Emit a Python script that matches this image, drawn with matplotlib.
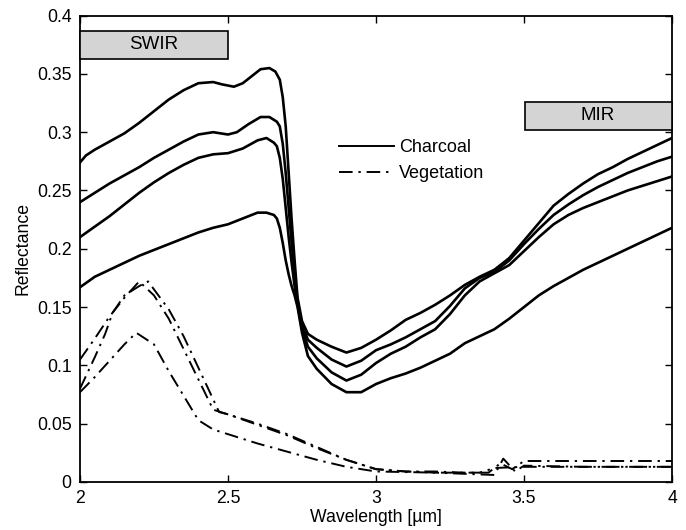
import matplotlib
matplotlib.use("Agg")
import matplotlib.pyplot as plt
from matplotlib.patches import Rectangle
from matplotlib.ticker import FuncFormatter

plt.rcParams['font.family'] = ['Liberation Sans', 'DejaVu Sans']
plt.rcParams['font.size'] = 13

# charcoal spectra (wavelength in um, reflectance)
char_x1 = [2.0, 2.02, 2.05, 2.1, 2.15, 2.2, 2.25, 2.3, 2.35, 2.4, 2.45, 2.48, 2.52, 2.55, 2.58, 2.61, 2.64,
           2.66, 2.675, 2.685, 2.695, 2.705, 2.715, 2.725, 2.735, 2.75, 2.77, 2.8, 2.85, 2.9, 2.95, 3.0,
           3.05, 3.1, 3.15, 3.2, 3.25, 3.3, 3.35, 3.4, 3.45, 3.5, 3.55, 3.6, 3.65, 3.7, 3.75, 3.8, 3.85,
           3.9, 3.95, 4.0]
char_y1 = [0.274, 0.28, 0.285, 0.292, 0.299, 0.308, 0.318, 0.328, 0.336, 0.342, 0.343, 0.341, 0.339, 0.342,
           0.348, 0.354, 0.355, 0.352, 0.345, 0.33, 0.305, 0.265, 0.225, 0.19, 0.158, 0.138, 0.127, 0.122,
           0.116, 0.111, 0.115, 0.122, 0.13, 0.139, 0.145, 0.152, 0.16, 0.169, 0.176, 0.182, 0.192, 0.207,
           0.222, 0.237, 0.247, 0.256, 0.264, 0.27, 0.277, 0.283, 0.289, 0.295]

char_x2 = [2.0, 2.05, 2.1, 2.15, 2.2, 2.25, 2.3, 2.35, 2.4, 2.45, 2.5, 2.53, 2.57, 2.61, 2.64, 2.665,
           2.675, 2.685, 2.695, 2.705, 2.715, 2.725, 2.735, 2.75, 2.77, 2.8, 2.85, 2.9, 2.95, 3.0, 3.05,
           3.1, 3.15, 3.2, 3.25, 3.3, 3.35, 3.4, 3.45, 3.5, 3.55, 3.6, 3.65, 3.7, 3.75, 3.8, 3.85, 3.9,
           3.95, 4.0]
char_y2 = [0.24, 0.248, 0.256, 0.263, 0.27, 0.278, 0.285, 0.292, 0.298, 0.3, 0.298, 0.3, 0.307, 0.313,
           0.313, 0.309, 0.305, 0.29, 0.265, 0.235, 0.205, 0.178, 0.155, 0.135, 0.122, 0.115, 0.105, 0.099,
           0.104, 0.113, 0.118, 0.124, 0.131, 0.138, 0.151, 0.166, 0.175, 0.18, 0.19, 0.204, 0.217, 0.229,
           0.238, 0.246, 0.253, 0.259, 0.265, 0.27, 0.275, 0.279]

char_x3 = [2.0, 2.05, 2.1, 2.15, 2.2, 2.25, 2.3, 2.35, 2.4, 2.45, 2.5, 2.55, 2.6, 2.63, 2.655, 2.665,
           2.675, 2.685, 2.695, 2.705, 2.715, 2.725, 2.735, 2.75, 2.77, 2.8, 2.85, 2.9, 2.95, 3.0, 3.05,
           3.1, 3.15, 3.2, 3.25, 3.3, 3.35, 3.4, 3.45, 3.5, 3.55, 3.6, 3.65, 3.7, 3.75, 3.8, 3.85, 3.9,
           3.95, 4.0]
char_y3 = [0.21, 0.219, 0.228, 0.238, 0.248, 0.257, 0.265, 0.272, 0.278, 0.281, 0.282, 0.286, 0.293,
           0.295, 0.291, 0.288, 0.278, 0.26, 0.235, 0.21, 0.188, 0.168, 0.152, 0.132, 0.116, 0.106, 0.094,
           0.087, 0.092, 0.102, 0.11, 0.116, 0.124, 0.131, 0.144, 0.16, 0.172, 0.179, 0.186, 0.198, 0.21,
           0.221, 0.229, 0.235, 0.24, 0.245, 0.25, 0.254, 0.258, 0.262]

char_x4 = [2.0, 2.05, 2.1, 2.15, 2.2, 2.25, 2.3, 2.35, 2.4, 2.45, 2.5, 2.55, 2.6, 2.63, 2.655, 2.665,
           2.675, 2.685, 2.695, 2.705, 2.715, 2.725, 2.735, 2.75, 2.77, 2.8, 2.85, 2.9, 2.95, 3.0, 3.05,
           3.1, 3.15, 3.2, 3.25, 3.3, 3.35, 3.4, 3.45, 3.5, 3.55, 3.6, 3.65, 3.7, 3.75, 3.8, 3.85, 3.9,
           3.95, 4.0]
char_y4 = [0.167, 0.176, 0.182, 0.188, 0.194, 0.199, 0.204, 0.209, 0.214, 0.218, 0.221, 0.226, 0.231,
           0.231, 0.229, 0.226, 0.218, 0.205, 0.19, 0.178, 0.168, 0.16, 0.15, 0.128, 0.108, 0.097, 0.084,
           0.077, 0.077, 0.084, 0.089, 0.093, 0.098, 0.104, 0.11, 0.119, 0.125, 0.131, 0.14, 0.15, 0.16,
           0.168, 0.175, 0.182, 0.188, 0.194, 0.2, 0.206, 0.212, 0.218]

# vegetation spectra
veg_x1 = [2.0, 2.05, 2.1, 2.15, 2.2, 2.25, 2.3, 2.35, 2.4, 2.45, 2.5, 2.6, 2.7, 2.8, 2.9, 3.0, 3.1,
          3.2, 3.3, 3.38, 3.42, 3.46, 3.5, 3.6, 3.8, 4.0]
veg_y1 = [0.105, 0.123, 0.142, 0.158, 0.172, 0.16, 0.14, 0.114, 0.088, 0.062, 0.058, 0.05, 0.041, 0.03,
          0.019, 0.011, 0.009, 0.009, 0.008, 0.008, 0.016, 0.011, 0.018, 0.018, 0.018, 0.018]

veg_x2 = [2.0, 2.05, 2.085, 2.11, 2.15, 2.2, 2.23, 2.3, 2.35, 2.4, 2.47, 2.5, 2.6, 2.7, 2.8, 2.9, 3.0,
          3.1, 3.2, 3.3, 3.4, 3.43, 3.47, 3.5, 3.7, 4.0]
veg_y2 = [0.08, 0.107, 0.127, 0.145, 0.16, 0.168, 0.172, 0.148, 0.125, 0.098, 0.06, 0.058, 0.049, 0.04,
          0.029, 0.019, 0.011, 0.009, 0.008, 0.007, 0.006, 0.02, 0.009, 0.014, 0.013, 0.013]

veg_x3 = [2.0, 2.05, 2.1, 2.15, 2.19, 2.25, 2.3, 2.35, 2.4, 2.45, 2.5, 2.6, 2.7, 2.8, 2.9, 3.0, 3.2,
          3.35, 3.4, 3.5, 4.0]
veg_y3 = [0.077, 0.09, 0.104, 0.118, 0.128, 0.118, 0.095, 0.074, 0.053, 0.045, 0.041, 0.033, 0.026,
          0.019, 0.013, 0.009, 0.008, 0.008, 0.012, 0.013, 0.013]

y_ticks = [0, 0.05, 0.1, 0.15, 0.2, 0.25, 0.3, 0.35, 0.4]
x_ticks = [2, 2.5, 3, 3.5, 4]

fig = plt.figure(figsize=(6.86, 5.30), dpi=100)
ax = fig.add_axes([0.1166, 0.0906, 0.863, 0.880])

dashdot = (0, (7, 3, 1.2, 3))
for x, y in [(char_x1, char_y1), (char_x2, char_y2), (char_x3, char_y3), (char_x4, char_y4)]:
    ax.plot(x, y, color='black', lw=1.9)
for x, y in [(veg_x1, veg_y1), (veg_x2, veg_y2), (veg_x3, veg_y3)]:
    ax.plot(x, y, color='black', lw=1.4, linestyle=dashdot)

# band labels
ax.add_patch(Rectangle((2.0, 0.363), 0.5, 0.024, facecolor='#d4d4d4', edgecolor='black', lw=1.2,
                       zorder=3, clip_on=False))
ax.text(2.25, 0.375, 'SWIR', ha='center', va='center', fontsize=13.5, zorder=4)
ax.add_patch(Rectangle((3.503, 0.302), 0.497, 0.024, facecolor='#d4d4d4', edgecolor='black', lw=1.2,
                       zorder=3, clip_on=False))
ax.text(3.75, 0.314, 'MIR', ha='center', va='center', fontsize=13.5, zorder=4)

# legend
ax.plot([], [], color='black', lw=1.4, label='Charcoal')
ax.plot([], [], color='black', lw=1.4, linestyle=dashdot, label='Vegetation')
h, l = ax.get_legend_handles_labels()
ax.legend(h[-2:], l[-2:], loc='upper left', bbox_to_anchor=(0.41, 0.77), frameon=False,
          handlelength=3.05, handletextpad=0.28, labelspacing=0.5, fontsize=13)

ax.set_xlim(2, 4)
ax.set_ylim(0, 0.4)
ax.set_xticks(x_ticks)
ax.set_yticks(y_ticks)
ax.xaxis.set_major_formatter(FuncFormatter(lambda v, p: '%g' % v))
ax.yaxis.set_major_formatter(FuncFormatter(lambda v, p: '%g' % v))
ax.tick_params(direction='in', length=5, width=1.0, top=True, right=True, labelsize=12.7, pad=6)
for s in ax.spines.values():
    s.set_linewidth(1.3)

ax.set_xlabel('Wavelength [\u00b5m]', fontsize=12.7, labelpad=1)
ax.set_ylabel('Reflectance', fontsize=12.7, labelpad=4)

fig.savefig('out.png', dpi=100)
